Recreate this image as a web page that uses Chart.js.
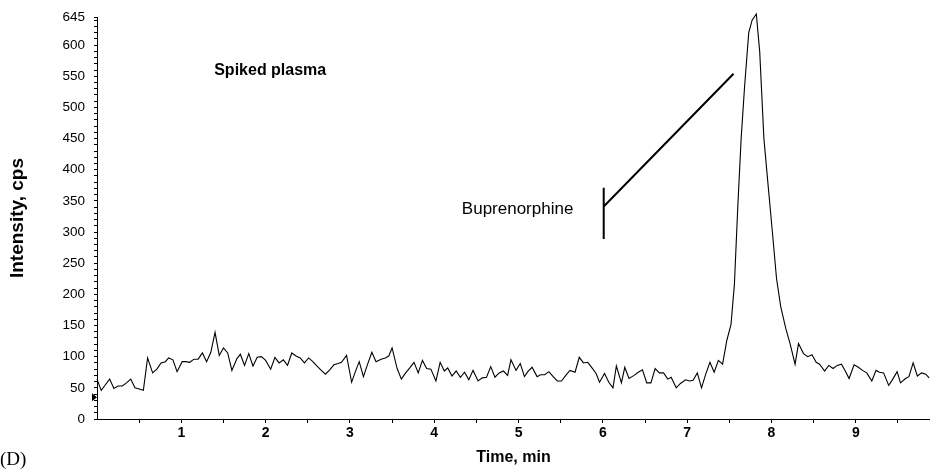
<!DOCTYPE html>
<html>
<head>
<meta charset="utf-8">
<script src="https://cdn.jsdelivr.net/npm/chart.js@4.4.0/dist/chart.umd.min.js"></script>
<style>
  html, body { margin: 0; padding: 0; background: #fff; }
  #wrap { width: 930px; height: 472px; position: relative; }
</style>
</head>
<body>
<div id="wrap"><canvas id="chart"></canvas></div>
<script>
// retention time (min) and intensity (cps)
var times = [
  0.00, 0.05, 0.10, 0.15, 0.20, 0.25, 0.30, 0.35, 0.40, 0.45, 0.50, 0.55, 0.60, 0.66, 0.71, 0.76, 0.81, 0.85, 0.90, 0.95,
  1.01, 1.05, 1.10, 1.15, 1.20, 1.25, 1.30, 1.35, 1.40, 1.45, 1.50, 1.55, 1.60, 1.66, 1.70, 1.75, 1.80, 1.85, 1.90, 1.95,
  2.00, 2.06, 2.11, 2.16, 2.21, 2.26, 2.31, 2.36, 2.41, 2.46, 2.51, 2.56, 2.61, 2.66, 2.71, 2.76, 2.81, 2.86, 2.90, 2.96,
  3.02, 3.07, 3.11, 3.16, 3.21, 3.26, 3.31, 3.37, 3.42, 3.46, 3.50, 3.56, 3.61, 3.66, 3.71, 3.76, 3.81, 3.86, 3.91, 3.96,
  4.02, 4.07, 4.12, 4.16, 4.21, 4.26, 4.31, 4.36, 4.41, 4.46, 4.52, 4.57, 4.62, 4.67, 4.72, 4.77, 4.82, 4.87, 4.91, 4.97,
  5.02, 5.07, 5.11, 5.16, 5.22, 5.26, 5.31, 5.36, 5.41, 5.46, 5.51, 5.56, 5.61, 5.67, 5.72, 5.77, 5.82, 5.86, 5.92, 5.96,
  6.02, 6.07, 6.12, 6.16, 6.22, 6.26, 6.31, 6.37, 6.42, 6.47, 6.52, 6.57, 6.62, 6.67, 6.72, 6.77, 6.81, 6.87, 6.92, 6.98,
  7.03, 7.07, 7.12, 7.17, 7.22, 7.27, 7.32, 7.37, 7.42, 7.47, 7.52, 7.56, 7.60, 7.64, 7.68, 7.73, 7.77, 7.82, 7.86, 7.91,
  7.96, 8.01, 8.06, 8.11, 8.17, 8.22, 8.28, 8.32, 8.38, 8.43, 8.48, 8.53, 8.57, 8.63, 8.68, 8.73, 8.78, 8.83, 8.88, 8.92,
  8.98, 9.03, 9.08, 9.13, 9.19, 9.24, 9.28, 9.33, 9.39, 9.43, 9.49, 9.53, 9.59, 9.63, 9.68, 9.73, 9.78, 9.83, 9.87
];
var intensity = [
  64, 46, 55, 64, 49, 53, 53, 58, 64, 50, 48, 46, 98, 74, 80, 90, 92, 98, 95, 76,
  92, 92, 91, 96, 96, 106, 92, 107, 139, 102, 114, 106, 78, 97, 104, 86, 105, 85, 99, 100,
  94, 80, 99, 90, 95, 86, 106, 101, 98, 90, 98, 92, 85, 78, 72, 79, 87, 89, 91, 102,
  59, 78, 92, 68, 88, 107, 92, 96, 98, 101, 114, 81, 64, 74, 82, 91, 74, 94, 81, 80,
  61, 91, 77, 82, 69, 77, 67, 75, 63, 78, 61, 66, 67, 84, 67, 74, 77, 70, 95, 78,
  89, 68, 76, 83, 68, 71, 71, 76, 68, 61, 61, 70, 78, 75, 99, 90, 91, 84, 73, 59,
  73, 59, 50, 85, 58, 83, 65, 70, 75, 79, 58, 58, 81, 74, 74, 64, 67, 50, 57, 63,
  61, 62, 74, 50, 72, 91, 75, 94, 88, 126, 152, 216, 340, 450, 532, 620, 640, 650, 590, 450,
  375, 301, 225, 180, 145, 121, 88, 121, 105, 100, 103, 91, 88, 77, 86, 81, 86, 88, 76, 65,
  87, 83, 78, 74, 61, 78, 75, 74, 54, 62, 76, 58, 65, 68, 90, 69, 74, 72, 66
];

var yTickLabels = [0, 50, 100, 150, 200, 250, 300, 350, 400, 450, 500, 550, 600, 645];
var xTickLabels = [1, 2, 3, 4, 5, 6, 7, 8, 9];

var points = times.map(function (t, i) {
  return { x: t, y: intensity[i] };
});

var FONT = "'Liberation Sans', Arial, sans-serif";

var annotations = {
  id: "annotations",
  afterDraw: function (chart) {
    var ctx = chart.ctx;
    var x = chart.scales.x;
    var y = chart.scales.y;
    ctx.save();
    ctx.fillStyle = "#000";
    ctx.strokeStyle = "#000";

    ctx.font = "bold 16px " + FONT;
    ctx.textAlign = "left";
    ctx.textBaseline = "middle";
    ctx.fillText("Spiked plasma", x.getPixelForValue(1.39), y.getPixelForValue(559));

    ctx.font = "17px " + FONT;
    ctx.textAlign = "right";
    ctx.fillText("Buprenorphine", x.getPixelForValue(5.65), y.getPixelForValue(336));

    // bracket + leader line to the peak
    ctx.lineWidth = 2;
    ctx.beginPath();
    ctx.moveTo(x.getPixelForValue(6.01), y.getPixelForValue(371));
    ctx.lineTo(x.getPixelForValue(6.01), y.getPixelForValue(289));
    ctx.moveTo(x.getPixelForValue(6.01), y.getPixelForValue(341));
    ctx.lineTo(x.getPixelForValue(7.55), y.getPixelForValue(554));
    ctx.stroke();

    // small threshold marker on the y axis
    var my = y.getPixelForValue(35);
    var mx = chart.chartArea.left;
    ctx.beginPath();
    ctx.moveTo(mx - 5, my - 4);
    ctx.lineTo(mx, my);
    ctx.lineTo(mx - 5, my + 4);
    ctx.closePath();
    ctx.fill();

    ctx.font = "19px 'Liberation Serif', 'Times New Roman', serif";
    ctx.textAlign = "left";
    ctx.textBaseline = "alphabetic";
    ctx.fillText("(D)", 0, 465);
    ctx.restore();
  }
};

new Chart(document.getElementById("chart"), {
  type: "line",
  data: {
    datasets: [
      {
        data: points,
        borderColor: "#000",
        borderWidth: 1.1,
        pointRadius: 0,
        tension: 0,
        fill: false,
        clip: false,
      },
    ],
  },
  options: {
    responsive: true,
    maintainAspectRatio: false,
    animation: false,
    layout: { padding: { left: 5, top: 12, right: 0, bottom: 0 } },
    plugins: {
      legend: { display: false },
      tooltip: { enabled: false },
    },
    scales: {
      x: {
        type: "linear",
        min: 0,
        max: 9.88,
        afterBuildTicks: function (scale) {
          var t = [];
          for (var v = 0.5; v < 9.88; v += 0.5) t.push({ value: v });
          scale.ticks = t;
        },
        afterFit: function (scale) {
          scale.height = 53;
        },
        border: { color: "#000", width: 1 },
        grid: { drawOnChartArea: false, drawTicks: true, tickLength: 4, color: "#000" },
        ticks: {
          autoSkip: false,
          maxRotation: 0,
          padding: 2,
          color: "#000",
          font: { family: FONT, size: 14, weight: "bold" },
          callback: function (value) {
            return xTickLabels.indexOf(Math.round(value * 10) / 10) >= 0 ? value : "";
          },
        },
        title: {
          display: true,
          text: "Time, min",
          color: "#000",
          padding: { top: 2, bottom: 5 },
          font: { family: FONT, size: 16, weight: "bold" },
        },
      },
      y: {
        min: 0,
        max: 645,
        afterBuildTicks: function (scale) {
          var t = [];
          for (var v = 0; v <= 640; v += 10) t.push({ value: v });
          t.push({ value: 645 });
          scale.ticks = t;
        },
        afterFit: function (scale) {
          scale.width = 92;
        },
        border: { color: "#000", width: 1 },
        grid: { drawOnChartArea: false, drawTicks: true, tickLength: 3, color: "#000" },
        ticks: {
          autoSkip: false,
          padding: 9,
          color: "#000",
          font: { family: FONT, size: 13.5 },
          callback: function (value) {
            return yTickLabels.indexOf(value) >= 0 ? value : "";
          },
        },
        title: {
          display: true,
          text: "Intensity, cps",
          color: "#000",
          padding: { top: 1, bottom: 0 },
          font: { family: FONT, size: 19, weight: "bold" },
        },
      },
    },
  },
  plugins: [annotations],
});
</script>
</body>
</html>
